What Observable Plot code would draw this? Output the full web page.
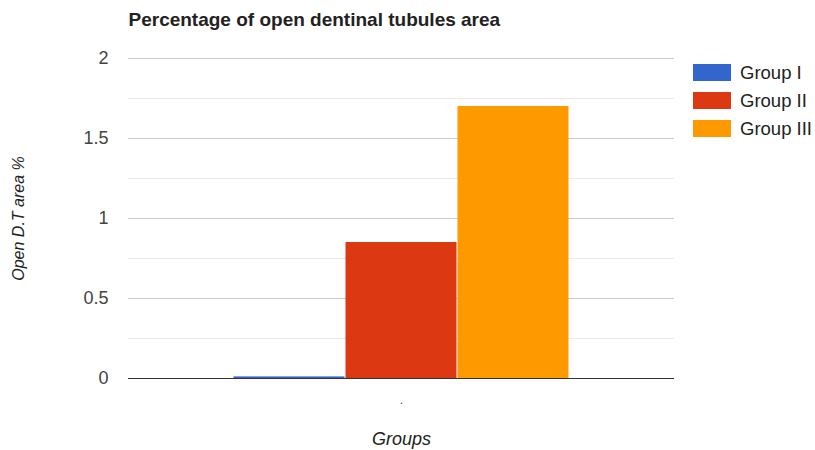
<!DOCTYPE html>
<html>
<head>
<meta charset="utf-8">
<script src="https://cdn.jsdelivr.net/npm/d3@7"></script>
<script src="https://cdn.jsdelivr.net/npm/@observablehq/plot@0.6"></script>
<style>
  body { margin: 0; background: #fff; font-family: Arial, "Liberation Sans", sans-serif; }
  #wrap { position: relative; width: 815px; height: 450px; }
  #legend { position: absolute; left: 693px; top: 58px; }
  .item { display: flex; align-items: center; height: 28px; }
  .item .sw { width: 38px; height: 17px; margin-right: 9px; }
  .item .lab { font-size: 18.5px; color: #222; line-height: 17px; }
</style>
</head>
<body>
<div id="wrap"><div id="chart"></div><div id="legend"></div></div>
<script>
const title = "Percentage of open dentinal tubules area";
const yLabel = "Open D.T area %";
const xLabel = "Groups";
const categories = ["."];
const groups = ["Group I", "Group II", "Group III"];
const values = [0.01, 0.85, 1.7];
const colors = ["#3366cc", "#dc3912", "#ff9900"];
const yTicks = [0, 0.5, 1, 1.5, 2];
const minorTicks = [0.25, 0.75, 1.25, 1.75];

const data = groups.map((g, i) => ({group: g, value: values[i], category: categories[0]}));

const chart = Plot.plot({
  width: 815,
  height: 450,
  marginLeft: 128,
  marginRight: 141,
  marginTop: 58,
  marginBottom: 72,
  style: {fontFamily: "Arial, 'Liberation Sans', sans-serif", background: "#fff"},
  x: {domain: groups, range: [232, 569], padding: 0, axis: null},
  y: {domain: [0, 2]},
  color: {domain: groups, range: colors},
  marks: [
    Plot.ruleY(minorTicks, {stroke: "#ebebeb"}),
    Plot.ruleY(yTicks.slice(1), {stroke: "#cccccc"}),
    Plot.barY(data, {x: "group", y: "value", fill: "group", insetLeft: 0.5, insetRight: 0.5}),
    Plot.ruleY([0], {stroke: "#333333"}),
    Plot.axisY({ticks: yTicks, tickSize: 0, tickPadding: 20, fontSize: 18, color: "#444", label: null, tickFormat: d => String(d)}),
    Plot.text(categories, {text: d => d, frameAnchor: "bottom", lineAnchor: "middle", dy: 22, fontSize: 12, fill: "#444"}),
    Plot.text([xLabel], {text: d => d, frameAnchor: "bottom", lineAnchor: "middle", dy: 61, fontSize: 18, fontStyle: "italic", fill: "#222"}),
    Plot.text([yLabel], {text: d => d, frameAnchor: "left", textAnchor: "middle", dx: -110, rotate: -90, fontSize: 16, fontStyle: "italic", fill: "#222"}),
    Plot.text([title], {text: d => d, frameAnchor: "top-left", textAnchor: "start", dx: 0, dy: -46, fontSize: 19, fontWeight: "bold", fill: "#222"})
  ]
});
document.getElementById("chart").appendChild(chart);

const legend = document.getElementById("legend");
groups.forEach((g, i) => {
  const item = document.createElement("div");
  item.className = "item";
  item.innerHTML = `<div class="sw" style="background:${colors[i]}"></div><span class="lab">${g}</span>`;
  legend.appendChild(item);
});
</script>
</body>
</html>
